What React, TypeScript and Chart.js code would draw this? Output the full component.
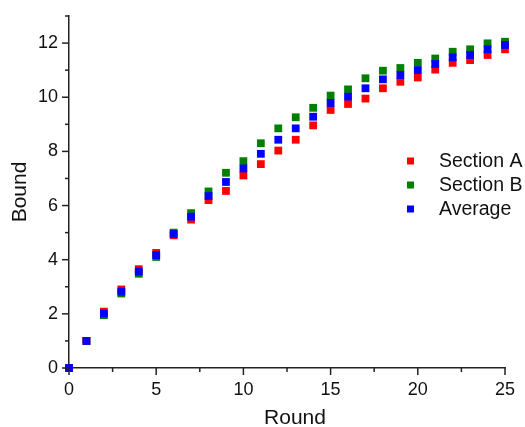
import React, { useEffect, useRef } from "react";
import { Chart, registerables } from "chart.js";

Chart.register(...registerables);

const rounds = [0, 1, 2, 3, 4, 5, 6, 7, 8, 9, 10, 11, 12, 13, 14, 15, 16, 17, 18, 19, 20, 21, 22, 23, 24, 25];
const sectionA = [0, 1, 2.08, 2.9, 3.65, 4.25, 4.9, 5.48, 6.2, 6.54, 7.11, 7.53, 8.03, 8.43, 8.96, 9.53, 9.75, 9.95, 10.33, 10.57, 10.73, 11.02, 11.27, 11.37, 11.56, 11.77];
const sectionB = [0, 1, 1.95, 2.75, 3.48, 4.1, 5.0, 5.72, 6.52, 7.21, 7.64, 8.3, 8.85, 9.26, 9.61, 10.06, 10.29, 10.7, 10.98, 11.08, 11.27, 11.43, 11.68, 11.77, 11.99, 12.05];
const average = [0, 1, 2.01, 2.82, 3.56, 4.17, 4.95, 5.59, 6.35, 6.87, 7.37, 7.91, 8.43, 8.85, 9.28, 9.79, 10.02, 10.33, 10.66, 10.82, 11.0, 11.23, 11.47, 11.56, 11.77, 11.93];
const seriesNames = ["Section A", "Section B", "Average"];
const seriesColors = ["#ff0000", "#008000", "#0000ff"];
const xMajorLabels = [0, 5, 10, 15, 20, 25];
const yMajorLabels = [0, 2, 4, 6, 8, 10, 12];
const xTitle = "Round";
const yTitle = "Bound";

const FONT = "'Liberation Sans', Arial, sans-serif";

const tickPlugin = {
  id: "customTicks",
  afterDraw(chart: any) {
    const ctx = chart.ctx;
    const xs = chart.scales.x;
    const ys = chart.scales.y;
    ctx.save();
    ctx.strokeStyle = "#222";
    ctx.lineWidth = 1.5;
    const bottom = chart.chartArea.bottom;
    const left = chart.chartArea.left;
    xs.ticks.forEach((t: any) => {
      const px = xs.getPixelForValue(t.value);
      const major = xMajorLabels.includes(t.value);
      ctx.beginPath();
      ctx.moveTo(px, bottom);
      ctx.lineTo(px, bottom + (major ? 7 : 4));
      ctx.stroke();
    });
    ys.ticks.forEach((t: any) => {
      const py = ys.getPixelForValue(t.value);
      const major = yMajorLabels.includes(t.value);
      ctx.beginPath();
      ctx.moveTo(left, py);
      ctx.lineTo(left - (major ? 7 : 4), py);
      ctx.stroke();
    });
    // x axis title
    ctx.fillStyle = "#111";
    ctx.font = `21px ${FONT}`;
    ctx.textAlign = "center";
    ctx.textBaseline = "middle";
    ctx.fillText(xTitle, (chart.chartArea.left + chart.chartArea.right) / 2 + 8, 418);
    ctx.restore();
  },
};

const legendPlugin = {
  id: "insideLegend",
  afterDraw(chart: any) {
    const ctx = chart.ctx;
    ctx.save();
    ctx.font = `19.5px ${FONT}`;
    ctx.textBaseline = "middle";
    ctx.textAlign = "left";
    const rowsY = [161, 185, 209];
    chart.data.datasets.forEach((ds: any, i: number) => {
      const y = rowsY[i];
      ctx.fillStyle = ds.backgroundColor;
      ctx.fillRect(407, y - 3.5, 7, 7);
      ctx.fillStyle = "#111";
      ctx.fillText(ds.label, 439, y + 1);
    });
    ctx.restore();
  },
};

export default function App() {
  const ref = useRef<HTMLCanvasElement>(null);
  useEffect(() => {
    document.body.style.margin = "0";
    const makeData = (vals: number[]) => rounds.map((r, i) => ({ x: r, y: vals[i] }));
    const all = [sectionA, sectionB, average];
    const orders = [1, 2, 0];
    const chart = new Chart(ref.current!, {
      type: "scatter",
      data: {
        datasets: all.map((vals, i) => ({
          label: seriesNames[i],
          data: makeData(vals),
          backgroundColor: seriesColors[i],
          borderColor: seriesColors[i],
          pointStyle: "rect",
          pointRadius: 5.5,
          pointBorderWidth: 0,
          pointHoverRadius: 5.5,
          order: orders[i],
          clip: false,
        })),
      },
      options: {
        responsive: false,
        animation: false,
        layout: { padding: { left: 0, top: 16, right: 20, bottom: 0 } },
        plugins: {
          legend: { display: false },
          tooltip: { enabled: false },
        },
        scales: {
          x: {
            type: "linear",
            min: 0,
            max: 25,
            afterFit: (s: any) => {
              s.height = 59;
            },
            border: { display: true, color: "#222", width: 1.5 },
            grid: { display: true, drawOnChartArea: false, drawTicks: true, tickLength: 7, tickColor: "rgba(0,0,0,0)" },
            ticks: {
              stepSize: 2.5,
              autoSkip: false,
              maxRotation: 0,
              padding: 4,
              color: "#111",
              font: { family: FONT, size: 18 },
              callback: (v: any) => (xMajorLabels.includes(Number(v)) ? String(v) : ""),
            },
            title: { display: false },
          },
          y: {
            type: "linear",
            min: 0,
            max: 13,
            afterFit: (s: any) => {
              s.width = 69;
            },
            border: { display: true, color: "#222", width: 1.5 },
            grid: { display: true, drawOnChartArea: false, drawTicks: true, tickLength: 7, tickColor: "rgba(0,0,0,0)" },
            ticks: {
              stepSize: 1,
              autoSkip: false,
              padding: 4,
              color: "#111",
              font: { family: FONT, size: 18 },
              callback: (v: any) => (yMajorLabels.includes(Number(v)) ? String(v) : ""),
            },
            title: {
              display: true,
              text: yTitle,
              color: "#111",
              font: { family: FONT, size: 21 },
              padding: { top: 8, bottom: 0 },
            },
          },
        },
      },
      plugins: [tickPlugin, legendPlugin],
    });
    return () => chart.destroy();
  }, []);
  return (
    <div style={{ position: "absolute", left: 0, top: 0, width: 525, height: 427 }}>
      <canvas ref={ref} width={525} height={427} />
    </div>
  );
}
